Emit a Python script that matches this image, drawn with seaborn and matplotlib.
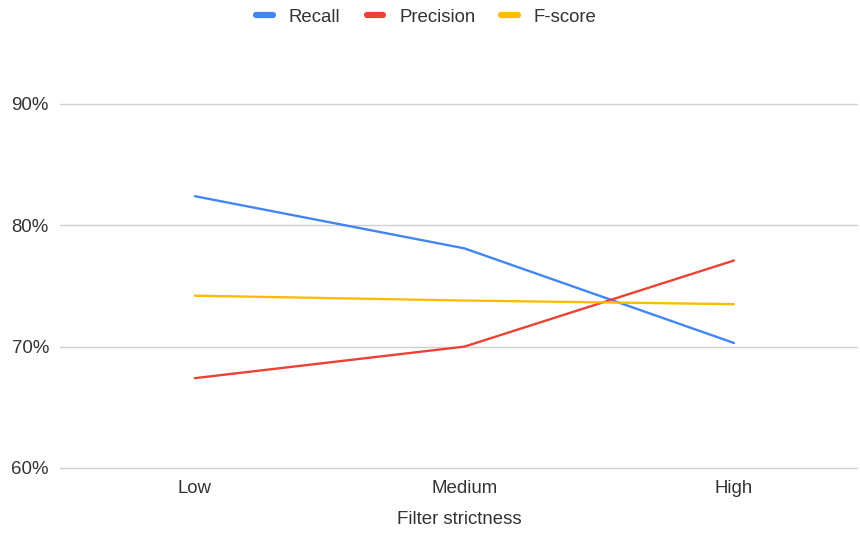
import matplotlib
matplotlib.use("Agg")
import matplotlib.pyplot as plt
import seaborn as sns
import pandas as pd
from matplotlib.ticker import PercentFormatter
from matplotlib.lines import Line2D

categories = ["Low", "Medium", "High"]
recall = [0.824, 0.781, 0.703]
precision = [0.674, 0.700, 0.771]
fscore = [0.742, 0.738, 0.735]
series_names = ["Recall", "Precision", "F-score"]
colors = ["#4285F4", "#EA4335", "#FBBC04"]
y_ticks = [0.6, 0.7, 0.8, 0.9]

df = pd.DataFrame({
    "cat": categories * 3,
    "x": list(range(len(categories))) * 3,
    "value": recall + precision + fscore,
    "series": [s for s in series_names for _ in categories],
})

sns.set_theme(style="white")
plt.rcParams["font.family"] = ["Liberation Sans", "DejaVu Sans"]

FS = 13.4
TXT = "#333333"

fig = plt.figure(figsize=(8.6, 5.35), dpi=100)
ax = fig.add_axes([60/860, 1-470/535, 798/860, (470-50)/535])

sns.lineplot(data=df, x="x", y="value", hue="series", hue_order=series_names,
             palette=colors, linewidth=1.7, ax=ax, legend=False, sort=False)

ax.set_xlim(-0.5, 2.46)
ax.set_ylim(0.5983, 0.9445)
ax.set_yticks(y_ticks)
ax.yaxis.set_major_formatter(PercentFormatter(1.0, decimals=0))
ax.set_xticks(range(len(categories)))
ax.set_xticklabels(categories)
ax.grid(axis="y", color="#d0d0d0", linewidth=1)
ax.set_axisbelow(True)
for s in ax.spines.values():
    s.set_visible(False)
ax.tick_params(axis="both", length=0, labelsize=FS, colors=TXT)
ax.tick_params(axis="y", pad=8)
ax.tick_params(axis="x", pad=7)
ax.set_ylabel("")
ax.set_xlabel("Filter strictness", fontsize=FS, color=TXT, labelpad=10)

handles = [Line2D([0], [0], color=c, linewidth=4.5) for c in colors]
leg = fig.legend(handles, series_names, loc="center", bbox_to_anchor=(0.496, 1-17/535),
                 ncol=3, frameon=False, fontsize=FS, handlelength=0.9,
                 columnspacing=1.4, handletextpad=0.85)
for t in leg.get_texts():
    t.set_color(TXT)

fig.savefig("out.png", dpi=100)
